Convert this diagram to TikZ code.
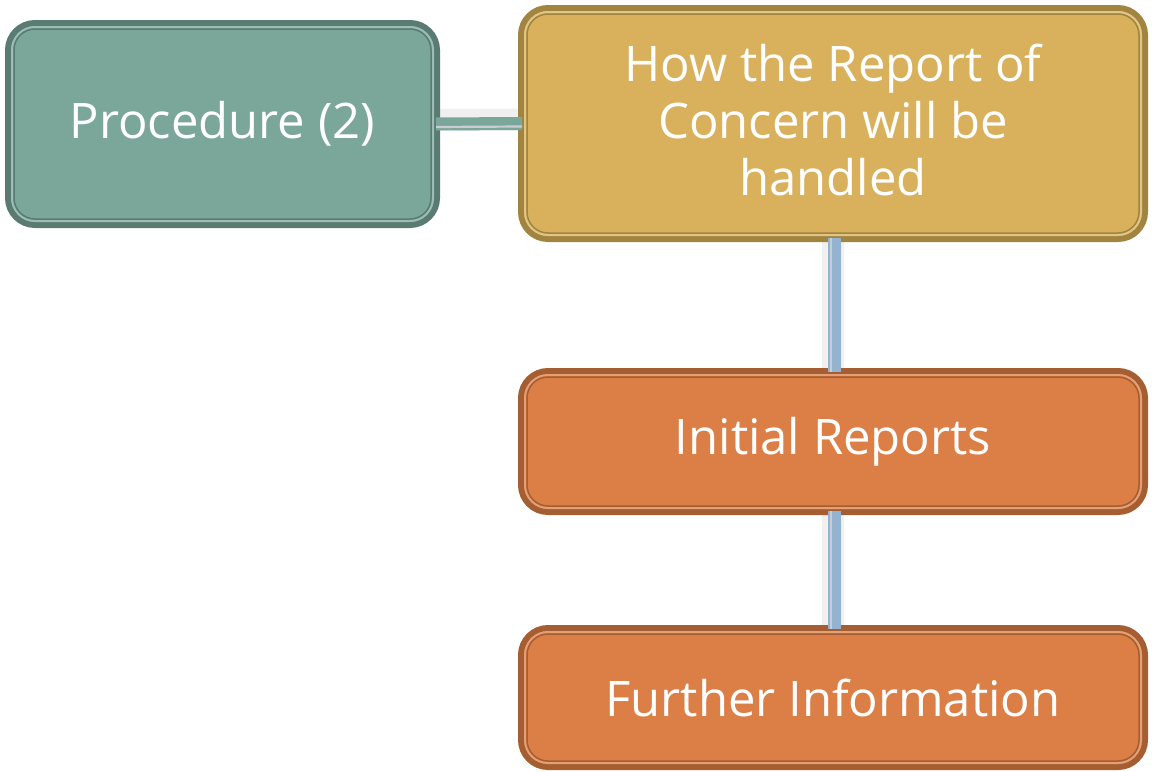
\documentclass[tikz,border=0pt]{standalone}
\usepackage{fontspec}
\setmainfont{Open Sans}
\definecolor{tealfill}{HTML}{7BA79B}
\definecolor{tealedge}{HTML}{5A7B71}
\definecolor{yelfill}{HTML}{D9B15C}
\definecolor{yeledge}{HTML}{A0843F}
\definecolor{orfill}{HTML}{DC7F47}
\definecolor{oredge}{HTML}{A55E32}
\definecolor{connblue}{HTML}{93B3D1}
\definecolor{conngap}{HTML}{C9CDD2}
\definecolor{connteal}{HTML}{7BA79B}
\begin{document}
\begin{tikzpicture}[x=1pt,y=-1pt,
  boxtext/.style={text=white, align=center, font=\fontsize{49}{57}\selectfont, inner sep=0pt},
  box/.style={boxtext, rounded corners=27pt, line width=6pt},
  tealbox/.style={box, draw=tealedge, fill=tealfill},
  yelbox/.style={box, draw=yeledge, fill=yelfill},
  orbox/.style={box, draw=oredge, fill=orfill},
  lightline/.style={rounded corners=23pt, line width=2pt},
  innerline/.style={rounded corners=21pt, line width=1.5pt},
  shadowline/.style={line width=22pt, black, opacity=0.06},
]
\useasboundingbox (0,0) rectangle (1153,771);
% boxes
\node[tealbox, minimum width=429pt, minimum height=202pt] (p) at (222.5,124) {Procedure (2)};
\node[yelbox, minimum width=624pt, minimum height=231pt] (h) at (833,123.5) {};
\node[orbox, minimum width=624pt, minimum height=141pt] (i) at (833,441.5) {Initial Reports};
\node[orbox, minimum width=624pt, minimum height=139pt] (f) at (833,697.5) {Further Information};
% inner double lines
\foreach \n/\c/\d in {p/tealedge/tealfill, h/yeledge/yelfill, i/oredge/orfill, f/oredge/orfill}{
  \draw[lightline, draw=\d!75!white] ([shift={(7,7)}]\n.north west) rectangle ([shift={(-7,-7)}]\n.south east);
  \draw[innerline, draw=\c] ([shift={(9,9)}]\n.north west) rectangle ([shift={(-9,-9)}]\n.south east);
}
\node[boxtext] (ht) at ([yshift=4]h.center) {How the Report of\\Concern will be\\handled};
% connectors
\draw[shadowline] ([yshift=4]p.east) -- ([yshift=4]h.west);
\draw[line width=13pt, connteal] ([xshift=-4]p.east) -- ([xshift=4]h.west);
\draw[line width=2.2pt, conngap] ([shift={(-4,3)}]p.east) -- ([shift={(4,3)}]h.west);
\draw[shadowline] (h.south) -- (i.north);
\draw[line width=13pt, connblue] ([shift={(1.5,-4)}]h.south) -- ([shift={(1.5,4)}]i.north);
\draw[line width=2.6pt, conngap] ([shift={(-2,-4)}]h.south) -- ([shift={(-2,4)}]i.north);
\draw[shadowline] (i.south) -- (f.north);
\draw[line width=13pt, connblue] ([shift={(1.5,-4)}]i.south) -- ([shift={(1.5,4)}]f.north);
\draw[line width=2.6pt, conngap] ([shift={(-2,-4)}]i.south) -- ([shift={(-2,4)}]f.north);
\end{tikzpicture}
\end{document}
